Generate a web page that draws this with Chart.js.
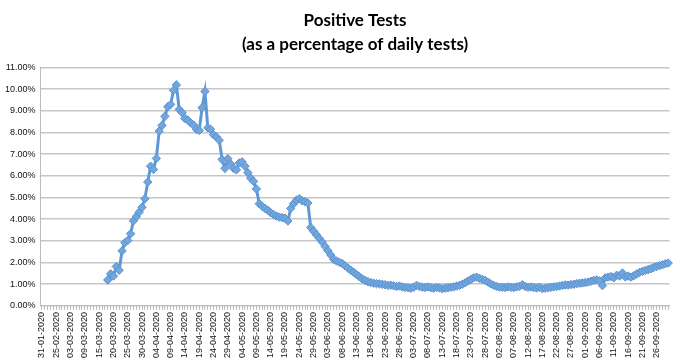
<!DOCTYPE html>
<html>
<head>
    <title>Positive Tests</title>
    <script src="https://cdn.jsdelivr.net/npm/chart.js"></script>
    <style>
        body { margin: 0; background: #fff; }
        .chart-box { width: 681px; height: 362px; }
    </style>
</head>
<body>
    <div class="chart-box">
        <canvas id="posChart" width="681" height="362"></canvas>
    </div>

    <script>
        // early test days (irregular), then daily from 20-03-2020 to 30-09-2020
        const earlyDates = ['31-01-2020', '07-02-2020', '12-02-2020', '17-02-2020', '21-02-2020',
            '25-02-2020', '26-02-2020', '27-02-2020', '28-02-2020', '01-03-2020',
            '03-03-2020', '04-03-2020', '05-03-2020', '06-03-2020', '08-03-2020',
            '09-03-2020', '10-03-2020', '11-03-2020', '12-03-2020', '13-03-2020',
            '15-03-2020', '16-03-2020', '17-03-2020', '18-03-2020', '19-03-2020'];
        const dailyFrom = '2020-03-20';
        const dailyTo = '2020-09-30';

        // no percentage recorded before 18-03-2020
        const emptyDays = 23;

        // positive tests (% of daily tests), 18-03-2020 .. 30-09-2020
        const positivePct = [
            1.20, 1.48, 1.38, 1.82, 1.65, 2.54, 2.92, 3.02, 3.33, 3.93,
            4.13, 4.33, 4.55, 4.95, 5.72, 6.45, 6.30, 6.81, 8.07, 8.33,
            8.75, 9.19, 9.30, 9.95, 10.20, 9.07, 8.92, 8.65, 8.58, 8.45,
            8.35, 8.15, 8.10, 9.15, 9.90, 8.22, 8.15, 7.90, 7.80, 7.65,
            6.76, 6.35, 6.80, 6.55, 6.35, 6.28, 6.60, 6.65, 6.45, 6.15,
            5.90, 5.75, 5.40, 4.72, 4.60, 4.50, 4.42, 4.30, 4.22, 4.15,
            4.10, 4.08, 4.05, 3.92, 4.50, 4.72, 4.88, 4.95, 4.85, 4.82,
            4.75, 3.62, 3.45, 3.28, 3.12, 2.95, 2.75, 2.55, 2.35, 2.15,
            2.08, 2.02, 1.96, 1.85, 1.75, 1.65, 1.56, 1.45, 1.35, 1.25,
            1.18, 1.12, 1.08, 1.05, 1.03, 1.02, 1.00, 0.98, 0.95, 0.96,
            0.93, 0.90, 0.92, 0.88, 0.85, 0.84, 0.82, 0.86, 0.95, 0.90,
            0.86, 0.85, 0.88, 0.84, 0.82, 0.85, 0.83, 0.80, 0.82, 0.84,
            0.86, 0.88, 0.92, 0.95, 1.00, 1.07, 1.15, 1.22, 1.30, 1.33,
            1.28, 1.22, 1.18, 1.10, 1.02, 0.95, 0.90, 0.87, 0.86, 0.85,
            0.88, 0.86, 0.85, 0.88, 0.90, 0.98, 0.90, 0.86, 0.88, 0.85,
            0.83, 0.86, 0.80, 0.82, 0.84, 0.86, 0.88, 0.90, 0.92, 0.95,
            0.97, 0.96, 0.99, 1.00, 1.03, 1.05, 1.06, 1.08, 1.10, 1.14,
            1.18, 1.20, 1.16, 0.94, 1.30, 1.33, 1.36, 1.30, 1.42, 1.38,
            1.52, 1.34, 1.38, 1.33, 1.40, 1.48, 1.55, 1.60, 1.64, 1.68,
            1.72, 1.78, 1.82, 1.86, 1.90, 1.95, 1.98
        ];

        const titleLines = ['Positive Tests', '(as a percentage of daily tests)'];

        // build the date labels
        function fmt(d) {
            const dd = String(d.getUTCDate()).padStart(2, '0');
            const mm = String(d.getUTCMonth() + 1).padStart(2, '0');
            return dd + '-' + mm + '-' + d.getUTCFullYear();
        }
        const labels = earlyDates.slice();
        for (let d = new Date(dailyFrom + 'T00:00:00Z'); d <= new Date(dailyTo + 'T00:00:00Z'); d.setUTCDate(d.getUTCDate() + 1)) {
            labels.push(fmt(d));
        }
        const values = new Array(emptyDays).fill(null).concat(positivePct);

        const tickFont = { family: 'Liberation Sans', size: 9 };

        new Chart(document.getElementById('posChart'), {
            type: 'line',
            data: {
                labels: labels,
                datasets: [{
                    data: values,
                    borderColor: '#5f98d6',
                    borderWidth: 3,
                    pointStyle: 'rectRot',
                    pointRadius: 4.2,
                    pointBackgroundColor: '#72a6de',
                    pointBorderColor: '#5a92cf',
                    pointBorderWidth: 1,
                    tension: 0,
                    fill: false
                }]
            },
            options: {
                responsive: false,
                animation: false,
                layout: { padding: { left: 0, right: 9, top: 9, bottom: 2 } },
                plugins: {
                    legend: { display: false },
                    tooltip: { enabled: false },
                    title: {
                        display: true,
                        text: titleLines,
                        fullSize: false,
                        color: '#000',
                        font: { family: 'Lato', size: 17, weight: 'bold', lineHeight: 1.4 },
                        padding: { top: 0, bottom: 11 }
                    }
                },
                scales: {
                    x: {
                        offset: true,
                        grid: {
                            drawOnChartArea: false,
                            drawTicks: true,
                            tickLength: 4,
                            color: '#bdbdbd'
                        },
                        border: { color: '#bdbdbd', width: 1 },
                        ticks: {
                            autoSkip: false,
                            maxRotation: 90,
                            minRotation: 90,
                            padding: 2,
                            color: '#111',
                            font: tickFont,
                            callback: (v, i) => i % 5 === 0 ? labels[i] : ''
                        }
                    },
                    y: {
                        min: 0,
                        max: 11,
                        grid: {
                            color: '#c6c6c6',
                            lineWidth: 1.6,
                            drawTicks: false
                        },
                        border: { color: '#bdbdbd', width: 1 },
                        ticks: {
                            stepSize: 0.5,
                            padding: 5,
                            color: '#111',
                            font: tickFont,
                            callback: v => v.toFixed(2) + '%'
                        }
                    }
                }
            }
        });
    </script>
</body>
</html>
